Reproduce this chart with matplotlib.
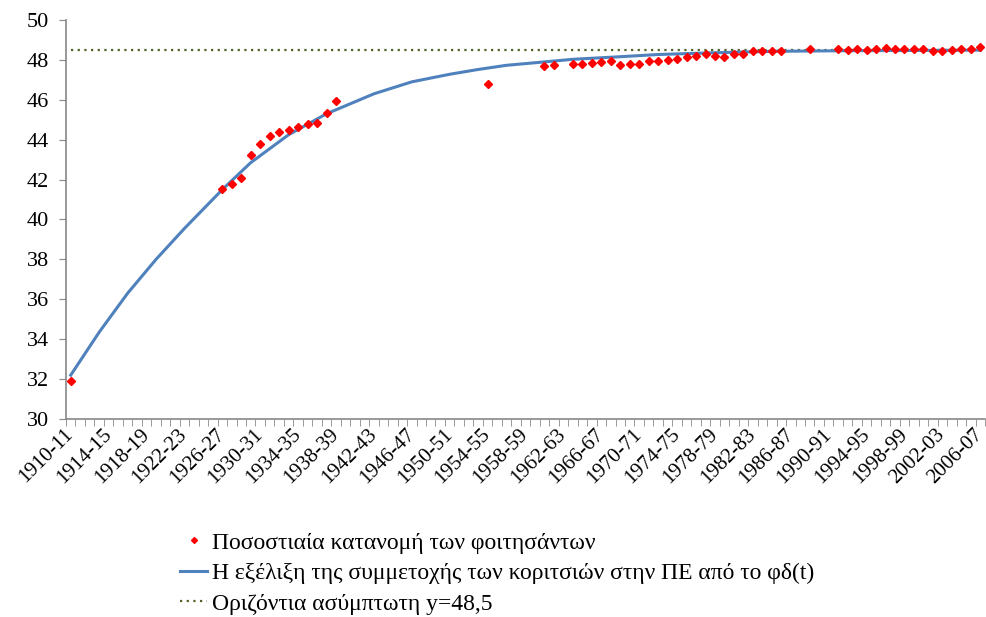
import numpy as np
import matplotlib
matplotlib.use("Agg")
import matplotlib.pyplot as plt
from matplotlib.ticker import MultipleLocator, FixedLocator

plt.rcParams['font.family'] = ['Liberation Serif', 'DejaVu Serif']

# academic years 1910-11 .. 2006-07
first_year, last_year = 1910, 2006
years = list(range(first_year, last_year + 1))
labels = [f"{y}-{str(y + 1)[-2:]}" for y in years]

# observed percentages (start year of academic year, value)
obs_years = [1910, 1926, 1927, 1928, 1929, 1930, 1931, 1932, 1933, 1934, 1935, 1936, 1937, 1938,
             1954, 1960, 1961, 1963, 1964, 1965, 1966, 1967, 1968, 1969, 1970, 1971, 1972,
             1973, 1974, 1975, 1976, 1977, 1978, 1979, 1980, 1981, 1982, 1983, 1984, 1985,
             1988, 1991, 1992, 1993, 1994, 1995, 1996, 1997, 1998, 1999, 2000, 2001, 2002,
             2003, 2004, 2005, 2006]
obs_vals = [31.92, 41.51, 41.78, 42.08, 43.25, 43.77, 44.19, 44.40, 44.49, 44.64, 44.79, 44.85, 45.34, 45.94,
            46.78, 47.71, 47.74, 47.78, 47.78, 47.83, 47.89, 47.93, 47.74, 47.81, 47.78, 47.93, 47.93,
            48.01, 48.05, 48.13, 48.21, 48.28, 48.21, 48.16, 48.31, 48.31, 48.43, 48.46, 48.46, 48.46,
            48.53, 48.53, 48.50, 48.53, 48.50, 48.53, 48.61, 48.56, 48.56, 48.56, 48.53, 48.45, 48.45,
            48.50, 48.56, 48.56, 48.65]

# fitted curve, read at selected years
fit_years = [1910, 1913, 1916, 1919, 1922, 1926, 1929, 1933, 1937, 1942, 1946,
             1950, 1953, 1956, 1960, 1963, 1968, 1972, 1978, 1984, 1992, 2006]
fit_vals = [32.2, 34.35, 36.3, 38.0, 39.55, 41.5, 42.85, 44.25, 45.3, 46.3, 46.9,
            47.28, 47.52, 47.73, 47.9, 48.03, 48.16, 48.27, 48.36, 48.43, 48.46, 48.49]

asymptote = 48.5

lab_obs = "Ποσοστιαία κατανομή των φοιτησάντων"
lab_fit = "Η εξέλιξη της συμμετοχής των κοριτσιών στην ΠΕ από το φδ(t)"
lab_asy = "Οριζόντια ασύμπτωτη y=48,5"

fig = plt.figure(figsize=(9.87, 6.17), dpi=100)
ax = fig.add_axes([66 / 987, 1 - 419 / 617, 919 / 987, 399 / 617])

x_obs = np.array(obs_years) - first_year
x_fit = np.array(fit_years) - first_year
n = len(years)

h_obs, = ax.plot(x_obs, obs_vals, linestyle='none', marker='D', markersize=4.3,
                 color='#FF0000', zorder=4, label=lab_obs)
h_fit, = ax.plot(x_fit, fit_vals, color='#4F81BD', linewidth=2.2, zorder=3, label=lab_fit)
h_asy, = ax.plot([0, n - 1], [asymptote, asymptote], color='#4F6228', linewidth=1.6,
                 linestyle=(0, (1, 2)), zorder=2, label=lab_asy)

ax.set_xlim(-0.5, n - 0.5)
ax.set_ylim(30, 50)
ax.yaxis.set_major_locator(MultipleLocator(2))

ax.set_xticks(range(0, n, 4))
ax.set_xticklabels(labels[::4], rotation=45, ha='right', va='center',
                   rotation_mode='anchor', fontsize=15)
ax.xaxis.set_minor_locator(FixedLocator(np.arange(-0.5, n, 1)))
ax.tick_params(axis='x', which='major', length=0, pad=9)
ax.tick_params(axis='x', which='minor', length=5, color='#888888', direction='out')
ax.tick_params(axis='y', length=5, color='#888888', labelsize=16, pad=7)

for s in ['top', 'right']:
    ax.spines[s].set_visible(False)
for s in ['left', 'bottom']:
    ax.spines[s].set_color('#888888')
    ax.spines[s].set_linewidth(1.2)

fig.legend(handles=[h_obs, h_fit, h_asy], loc='upper left',
           bbox_to_anchor=(180 / 987, 1 - 532 / 617), frameon=False, fontsize=17,
           handlelength=1.15, handletextpad=0.2, labelspacing=0.38, borderaxespad=0,
           borderpad=0, markerscale=0.7)

fig.savefig("out.png", dpi=100)
